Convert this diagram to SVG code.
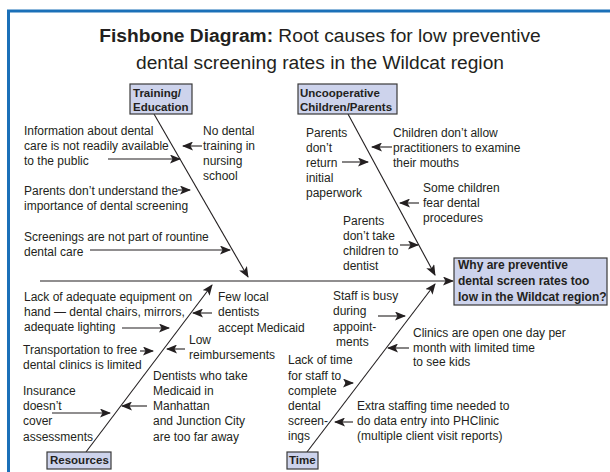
<svg xmlns="http://www.w3.org/2000/svg" width="610" height="472" viewBox="0 0 610 472">
<defs>
<style>
.t{font-family:"Liberation Sans",Arial,sans-serif;font-size:12px;fill:#231f20}
.b{font-family:"Liberation Sans",Arial,sans-serif;font-size:11.5px;font-weight:bold;fill:#231f20}
.e{font-family:"Liberation Sans",Arial,sans-serif;font-size:12px;font-weight:bold;fill:#231f20}
.ttl{font-family:"Liberation Sans",Arial,sans-serif;font-size:19.2px;fill:#231f20}
.box{fill:#cdd3ec;stroke:#3a3a3a;stroke-width:1.2}
.ln{stroke:#231f20;stroke-width:1.1;fill:none;marker-end:url(#ah)}
.bone{stroke:#231f20;stroke-width:1.1;fill:none;marker-end:url(#ah)}
</style>
<marker id="ah" viewBox="0 0 11 9" refX="10" refY="4.5" markerWidth="11" markerHeight="9" markerUnits="userSpaceOnUse" orient="auto">
<path d="M0,0 L11,4.5 L0,9 L2.5,4.5 z" fill="#231f20"/>
</marker>
</defs>
<rect x="0" y="0" width="610" height="472" fill="#ffffff"/>
<rect x="8.5" y="11" width="700" height="600" fill="none" stroke="#1b70b8" stroke-width="3"/>
<g id="title">
<text class="ttl" x="320" y="42" text-anchor="middle"><tspan font-weight="bold">Fishbone Diagram:</tspan> Root causes for low preventive</text>
<text class="ttl" x="320" y="69" text-anchor="middle">dental screening rates in the Wildcat region</text>
</g>
<g id="connectors">
<line class="bone" x1="40" y1="281" x2="453" y2="281"/>
<line class="bone" x1="154" y1="114" x2="248" y2="277"/>
<line class="bone" x1="348" y1="114" x2="435" y2="275"/>
<line class="bone" x1="86" y1="452" x2="212" y2="285"/>
<line class="bone" x1="307" y1="452" x2="435" y2="284"/>
<line class="ln" x1="108" y1="159" x2="180" y2="159"/>
<line class="ln" x1="202" y1="146" x2="183" y2="146"/>
<line class="ln" x1="178" y1="190" x2="190" y2="190"/>
<line class="ln" x1="90" y1="250" x2="230" y2="250"/>
<line class="ln" x1="342" y1="162" x2="368" y2="162"/>
<line class="ln" x1="392" y1="147" x2="372" y2="147"/>
<line class="ln" x1="419" y1="203" x2="400" y2="203"/>
<line class="ln" x1="400" y1="245" x2="418" y2="245"/>
<line class="ln" x1="122" y1="328" x2="169" y2="328"/>
<line class="ln" x1="212" y1="313" x2="193" y2="313"/>
<line class="ln" x1="185" y1="349" x2="167" y2="349"/>
<line class="ln" x1="140" y1="351" x2="153" y2="351"/>
<line class="ln" x1="147" y1="406" x2="122" y2="406"/>
<line class="ln" x1="52" y1="413" x2="110" y2="413"/>
<line class="ln" x1="378" y1="316" x2="405" y2="316"/>
<line class="ln" x1="409" y1="348" x2="388" y2="348"/>
<line class="ln" x1="345" y1="383" x2="353" y2="383"/>
<line class="ln" x1="353" y1="422" x2="335" y2="422"/>
</g>
<g id="effect">
<rect class="box" x="454" y="258" width="153" height="47"/>
<text class="e" x="458" y="269">Why are preventive</text>
<text class="e" x="458" y="285">dental screen rates too</text>
<text class="e" x="458" y="301">low in the Wildcat region?</text>
</g>
<g id="training">
<rect class="box" x="130" y="84" width="62" height="30"/>
<text class="b" x="133" y="97">Training/</text>
<text class="b" x="133" y="111">Education</text>
</g>
<g id="uncooperative">
<rect class="box" x="298" y="84" width="99" height="30"/>
<text class="b" x="300" y="97">Uncooperative</text>
<text class="b" x="300" y="111">Children/Parents</text>
</g>
<g id="resources">
<rect class="box" x="47" y="452" width="64" height="17"/>
<text class="b" x="50" y="464">Resources</text>
</g>
<g id="time">
<rect class="box" x="287" y="452" width="31" height="17"/>
<text class="b" x="289" y="464">Time</text>
</g>
<g id="training-causes">
<text class="t" x="24" y="135">Information about dental</text>
<text class="t" x="24" y="150">care is not readily available</text>
<text class="t" x="24" y="165">to the public</text>
<text class="t" x="203" y="135">No dental</text>
<text class="t" x="203" y="150">training in</text>
<text class="t" x="203" y="165">nursing</text>
<text class="t" x="203" y="180">school</text>
<text class="t" x="24" y="195">Parents don’t understand the</text>
<text class="t" x="24" y="210">importance of dental screening</text>
<text class="t" x="24" y="241">Screenings are not part of rountine</text>
<text class="t" x="24" y="256">dental care</text>
</g>
<g id="uncooperative-causes">
<text class="t" x="306" y="137">Parents</text>
<text class="t" x="306" y="152">don’t</text>
<text class="t" x="306" y="167">return</text>
<text class="t" x="306" y="182">initial</text>
<text class="t" x="306" y="197">paperwork</text>
<text class="t" x="393" y="137">Children don’t allow</text>
<text class="t" x="393" y="152">practitioners to examine</text>
<text class="t" x="393" y="167">their mouths</text>
<text class="t" x="423" y="192">Some children</text>
<text class="t" x="423" y="207">fear dental</text>
<text class="t" x="423" y="222">procedures</text>
<text class="t" x="343" y="225">Parents</text>
<text class="t" x="343" y="240">don’t take</text>
<text class="t" x="343" y="255">children to</text>
<text class="t" x="343" y="270">dentist</text>
</g>
<g id="resources-causes">
<text class="t" x="24" y="301">Lack of adequate equipment on</text>
<text class="t" x="24" y="316">hand — dental chairs, mirrors,</text>
<text class="t" x="24" y="331">adequate lighting</text>
<text class="t" x="218" y="301">Few local</text>
<text class="t" x="218" y="316">dentists</text>
<text class="t" x="218" y="332">accept Medicaid</text>
<text class="t" x="189" y="344">Low</text>
<text class="t" x="189" y="359">reimbursements</text>
<text class="t" x="23" y="354">Transportation to free</text>
<text class="t" x="23" y="369">dental clinics is limited</text>
<text class="t" x="153" y="380">Dentists who take</text>
<text class="t" x="153" y="395">Medicaid in</text>
<text class="t" x="153" y="410">Manhattan</text>
<text class="t" x="153" y="425">and Junction City</text>
<text class="t" x="153" y="441">are too far away</text>
<text class="t" x="23" y="395">Insurance</text>
<text class="t" x="23" y="410">doesn’t</text>
<text class="t" x="23" y="425">cover</text>
<text class="t" x="23" y="441">assessments</text>
</g>
<g id="time-causes">
<text class="t" x="333" y="300">Staff is busy</text>
<text class="t" x="333" y="315">during</text>
<text class="t" x="333" y="331">appoint-</text>
<text class="t" x="336" y="346">ments</text>
<text class="t" x="413" y="337">Clinics are open one day per</text>
<text class="t" x="413" y="352">month with limited time</text>
<text class="t" x="413" y="366">to see kids</text>
<text class="t" x="288" y="364">Lack of time</text>
<text class="t" x="288" y="380">for staff to</text>
<text class="t" x="288" y="395">complete</text>
<text class="t" x="288" y="410">dental</text>
<text class="t" x="288" y="425">screen-</text>
<text class="t" x="288" y="440">ings</text>
<text class="t" x="357" y="410">Extra staffing time needed to</text>
<text class="t" x="357" y="425">do data entry into PHClinic</text>
<text class="t" x="357" y="440">(multiple client visit reports)</text>
</g>
</svg>
